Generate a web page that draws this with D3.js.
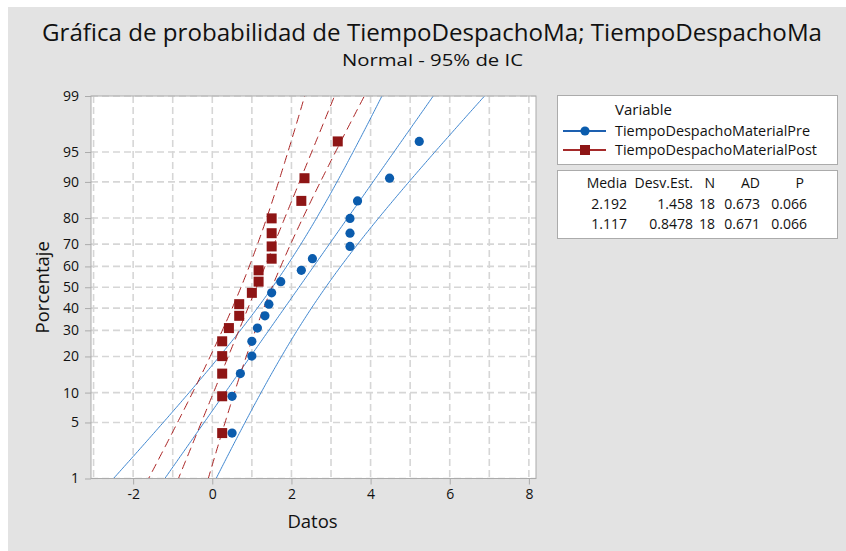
<!DOCTYPE html>
<html>
<head>
<meta charset="utf-8">
<script src="https://cdn.jsdelivr.net/npm/d3@7"></script>
<style>
  body { margin: 0; background: #fff; }
  text { font-family: "Open Sans", "Noto Sans", sans-serif; fill: #111; }
</style>
</head>
<body>
<div id="chart"></div>
<script>
// series (values in order of rank)
const seriesNames = ["TiempoDespachoMaterialPre", "TiempoDespachoMaterialPost"];
const preValues = [0.5, 0.5, 0.71, 1.0, 1.0, 1.14, 1.33, 1.43, 1.5, 1.73, 2.25, 2.53, 3.48, 3.48, 3.48, 3.67, 4.48, 5.23];
const postValues = [0.25, 0.25, 0.25, 0.25, 0.25, 0.42, 0.68, 0.68, 1.0, 1.17, 1.17, 1.5, 1.5, 1.5, 1.5, 2.25, 2.33, 3.17];
const means = [2.192, 1.117];
const stdevs = [1.458, 0.8478];
const counts = [18, 18];

const statsHeader = ["Media", "Desv.Est.", "N", "AD", "P"];
const statsRows = [
  ["2.192", "1.458", "18", "0.673", "0.066"],
  ["1.117", "0.8478", "18", "0.671", "0.066"],
];

const xTicks = [-2, 0, 2, 4, 6, 8];
const xGrid = [-3, -2, -1, 0, 1, 2, 3, 4, 5, 6, 7, 8];
const yTicks = [1, 5, 10, 20, 30, 40, 50, 60, 70, 80, 90, 95, 99];

const colors = {
  point: ["#0b5cad", "#8e1515"],
  line: ["#3f86cf", "#a82020"],
  legendLine: ["#1d60b0", "#a52a2a"],
};

const width = 846, height = 551;
const plot = { left: 91, right: 536, top: 96, bottom: 478.5 };

// inverse standard normal cdf (Acklam)
function probit(p) {
  const a = [-39.69683028665376, 220.9460984245205, -275.9285104469687, 138.3577518672690, -30.66479806614716, 2.506628277459239];
  const b = [-54.47609879822406, 161.5858368580409, -155.6989798598866, 66.80131188771972, -13.28068155288572];
  const c = [-0.007784894002430293, -0.3223964580411365, -2.400758277161838, -2.549732539343734, 4.374664141464968, 2.938163982698783];
  const d = [0.007784695709041462, 0.3224671290700398, 2.445134137142996, 3.754408661907416];
  const pl = 0.02425;
  let q, r;
  if (p < pl) {
    q = Math.sqrt(-2 * Math.log(p));
    return (((((c[0]*q+c[1])*q+c[2])*q+c[3])*q+c[4])*q+c[5]) / ((((d[0]*q+d[1])*q+d[2])*q+d[3])*q+1);
  }
  if (p > 1 - pl) {
    q = Math.sqrt(-2 * Math.log(1 - p));
    return -(((((c[0]*q+c[1])*q+c[2])*q+c[3])*q+c[4])*q+c[5]) / ((((d[0]*q+d[1])*q+d[2])*q+d[3])*q+1);
  }
  q = p - 0.5; r = q * q;
  return (((((a[0]*r+a[1])*r+a[2])*r+a[3])*r+a[4])*r+a[5])*q / (((((b[0]*r+b[1])*r+b[2])*r+b[3])*r+b[4])*r+1);
}

const svg = d3.select("#chart").append("svg")
  .attr("width", width).attr("height", height);

svg.append("rect").attr("x", 8).attr("y", 7)
  .attr("width", width - 8).attr("height", height - 7).attr("fill", "#e3e3e3");

const x = d3.scaleLinear().domain([-3.065, 8.18]).range([plot.left, plot.right]);
const y = d3.scaleLinear().domain([probit(0.01), probit(0.99)]).range([plot.bottom, plot.top]);
const yP = p => y(probit(p / 100));

svg.append("defs").append("clipPath").attr("id", "clip")
  .append("rect").attr("x", plot.left).attr("y", plot.top)
  .attr("width", plot.right - plot.left).attr("height", plot.bottom - plot.top);

svg.append("rect").attr("x", plot.left).attr("y", plot.top)
  .attr("width", plot.right - plot.left).attr("height", plot.bottom - plot.top)
  .attr("fill", "#fff");

// grid
const grid = svg.append("g").attr("stroke", "#d6d6d6").attr("stroke-width", 1.6)
  .attr("stroke-dasharray", "7,4");
grid.selectAll("line.v").data(xGrid).join("line").attr("class", "v")
  .attr("x1", d => x(d)).attr("x2", d => x(d))
  .attr("y1", plot.top).attr("y2", plot.bottom);
grid.selectAll("line.h").data(yTicks).join("line").attr("class", "h")
  .attr("x1", plot.left).attr("x2", plot.right)
  .attr("y1", d => yP(d)).attr("y2", d => yP(d));

// fitted lines and 95% bands
const zs = d3.range(-3, 3.001, 0.02);
const lines = svg.append("g").attr("clip-path", "url(#clip)").attr("fill", "none");
[0, 1].forEach(k => {
  const m = means[k], s = stdevs[k], n = counts[k];
  const half = z => 1.96 * s * Math.sqrt((1 + z * z / 2) / n);
  const fns = [z => m + s * z - half(z), z => m + s * z, z => m + s * z + half(z)];
  fns.forEach(f => {
    lines.append("path")
      .attr("d", d3.line().x(z => x(f(z))).y(z => y(z))(zs))
      .attr("stroke", colors.line[k]).attr("stroke-width", 1)
      .attr("stroke-dasharray", k === 1 ? "9,5" : null);
  });
});

// points
const pos = (i, n) => (i + 1 - 0.3) / (n + 0.4);
svg.append("g").selectAll("circle").data(preValues).join("circle")
  .attr("cx", d => x(d)).attr("cy", (d, i) => y(probit(pos(i, preValues.length))))
  .attr("r", 4.6).attr("fill", colors.point[0]);
svg.append("g").selectAll("rect").data(postValues).join("rect")
  .attr("x", d => x(d) - 5).attr("y", (d, i) => y(probit(pos(i, postValues.length))) - 5)
  .attr("width", 10).attr("height", 10).attr("fill", colors.point[1]);

// frame
svg.append("rect").attr("x", plot.left).attr("y", plot.top)
  .attr("width", plot.right - plot.left).attr("height", plot.bottom - plot.top)
  .attr("fill", "none").attr("stroke", "#ababab").attr("stroke-width", 1);

// axes
const xAxis = svg.append("g").attr("transform", `translate(0,${plot.bottom})`)
  .call(d3.axisBottom(x).tickValues(xTicks).tickSize(6).tickPadding(5).tickFormat(d => String(d)));
const yAxis = svg.append("g").attr("transform", `translate(${plot.left},0)`)
  .call(d3.axisLeft(y).tickValues(yTicks.map(p => probit(p / 100))).tickSize(6).tickPadding(6)
    .tickFormat((d, i) => yTicks[i]));
[xAxis, yAxis].forEach(a => {
  a.select(".domain").remove();
  a.selectAll(".tick line").attr("stroke", "#ababab");
  a.selectAll(".tick text").attr("font-size", 14).attr("fill", "#111")
    .attr("font-family", "'Open Sans', sans-serif");
});

// titles
svg.append("text").attr("x", 432).attr("y", 41).attr("text-anchor", "middle")
  .attr("font-size", 24).attr("textLength", 780).attr("lengthAdjust", "spacingAndGlyphs")
  .text("Gráfica de probabilidad de TiempoDespachoMa; TiempoDespachoMa");
svg.append("text").attr("x", 432.5).attr("y", 66).attr("text-anchor", "middle")
  .attr("font-size", 17).attr("textLength", 181).attr("lengthAdjust", "spacingAndGlyphs")
  .text("Normal - 95% de IC");
svg.append("text").attr("transform", `translate(49,${(plot.top + plot.bottom) / 2}) rotate(-90)`)
  .attr("text-anchor", "middle").attr("font-size", 18.5).text("Porcentaje");
svg.append("text").attr("x", (plot.left + plot.right) / 2 - 1).attr("y", 528)
  .attr("text-anchor", "middle").attr("font-size", 18.5).text("Datos");

// legend
const legendLengths = [195, 202];
const lg = svg.append("g");
lg.append("rect").attr("x", 557.5).attr("y", 95.5).attr("width", 280).attr("height", 69)
  .attr("fill", "#fff").attr("stroke", "#ababab");
lg.append("text").attr("x", 615).attr("y", 115).attr("font-size", 15).text("Variable");
seriesNames.forEach((name, k) => {
  const yy = 131 + k * 19;
  lg.append("line").attr("x1", 563).attr("x2", 606).attr("y1", yy).attr("y2", yy)
    .attr("stroke", colors.legendLine[k]).attr("stroke-width", 2);
  if (k === 0) {
    lg.append("circle").attr("cx", 585).attr("cy", yy).attr("r", 4.6).attr("fill", colors.point[0]);
  } else {
    lg.append("rect").attr("x", 580).attr("y", yy - 5).attr("width", 10).attr("height", 10)
      .attr("fill", colors.point[1]);
  }
  lg.append("text").attr("x", 615).attr("y", yy + 5).attr("font-size", 15)
    .attr("textLength", legendLengths[k]).attr("lengthAdjust", "spacingAndGlyphs").text(name);
});

// stats table
const sg = svg.append("g");
sg.append("rect").attr("x", 557.5).attr("y", 170.5).attr("width", 280).attr("height", 68)
  .attr("fill", "#fff").attr("stroke", "#ababab");
const colRight = [627, 693, 715, 760, 807];
statsHeader.forEach((h, j) => {
  sg.append("text").attr("x", colRight[j] - (j === 4 ? 3 : 0)).attr("y", 188)
    .attr("text-anchor", "end").attr("font-size", 14).text(h);
});
statsRows.forEach((row, r) => {
  row.forEach((v, j) => {
    sg.append("text").attr("x", colRight[j]).attr("y", 209 + r * 20)
      .attr("text-anchor", "end").attr("font-size", 14).text(v);
  });
});
</script>
</body>
</html>
